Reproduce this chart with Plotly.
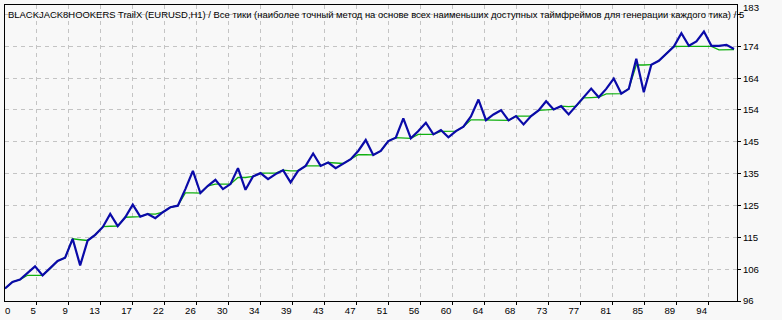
import plotly.graph_objects as go

# ---- data ----
trades = list(range(98))
balance = [99.78, 101.80, 102.49, 104.61, 106.51, 103.79, 105.82, 108.14, 109.14, 114.88,
           106.81, 114.37, 116.09, 118.41, 122.43, 118.72, 121.43, 125.24, 121.62, 122.43,
           121.13, 122.95, 124.46, 124.94, 129.98, 135.51, 128.78, 130.98, 132.79, 129.98,
           131.49, 136.33, 129.77, 133.82, 134.82, 133.00, 134.52, 135.72, 132.01, 135.51,
           137.02, 140.77, 137.02, 138.05, 136.33, 137.75, 139.05, 141.55, 144.88, 140.35,
           141.55, 144.57, 145.60, 151.43, 145.39, 147.60, 150.13, 146.60, 147.90, 145.69,
           147.60, 148.92, 152.04, 157.17, 150.92, 152.64, 153.94, 150.83, 152.13, 149.62,
           152.13, 153.85, 156.66, 154.15, 155.15, 152.64, 155.15, 157.68, 160.49, 157.87,
           160.40, 163.52, 158.98, 160.40, 169.56, 159.38, 167.74, 168.95, 171.07, 173.27,
           177.32, 173.48, 174.78, 177.80, 173.48, 173.48, 173.79, 172.49]
equity = [99.78, 101.80, 102.49, 103.80, 103.80, 103.79, 105.82, 108.14, 109.14, 114.88,
          114.60, 114.37, 116.09, 118.60, 118.70, 118.72, 121.43, 121.50, 121.62, 122.43,
          122.40, 122.95, 124.46, 124.94, 128.80, 128.80, 128.78, 130.98, 131.50, 131.50,
          131.49, 133.50, 133.50, 133.82, 134.82, 134.82, 134.82, 135.72, 135.50, 135.51,
          137.02, 137.00, 137.02, 138.05, 137.90, 137.75, 139.05, 140.40, 140.40, 140.35,
          141.55, 144.57, 145.60, 145.40, 145.39, 146.60, 146.60, 146.60, 147.50, 147.50,
          147.60, 148.92, 151.00, 151.00, 150.92, 150.80, 150.80, 150.83, 152.13, 152.13,
          152.13, 153.90, 154.10, 154.15, 155.15, 155.00, 155.15, 157.68, 157.75, 157.87,
          158.90, 158.90, 158.98, 160.40, 167.65, 167.65, 167.74, 168.95, 171.07, 173.27,
          173.30, 173.30, 173.30, 173.30, 173.30, 172.25, 172.25, 172.30]
x_tick_labels = ["5", "9", "13", "17", "22", "26", "30", "34", "39", "43", "47",
                 "51", "56", "60", "64", "68", "73", "77", "81", "85", "89", "94"]
y_tick_labels = ["96", "106", "115", "125", "135", "145", "154", "164", "174", "183"]
title_text = ("BLACKJACK8HOOKERS TrailX (EURUSD,H1) / Все тики (наиболее точный метод на основе "
              "всех наименьших доступных таймфреймов для генерации каждого тика) / 5")

# ---- scales ----
X_MAX = 97.4
X_STEP = 32 * X_MAX / 733.0
Y_MIN = 96.0
Y_STEP = 9.667
Y_MAX = Y_MIN + Y_STEP * 297.5 / 32.0

FONT = "Liberation Sans"
BG = "#f8f8f8"
TICK_SIZE = 9.6

fig = go.Figure()
fig.add_trace(go.Scatter(x=trades, y=equity, mode="lines",
                         line=dict(color="#10b010", width=1.3), hoverinfo="skip"))
fig.add_trace(go.Scatter(x=trades, y=balance, mode="lines",
                         line=dict(color="#0a0aa8", width=2.2), hoverinfo="skip"))

# top label is drawn by MT4 slightly above its grid line
y_ticktext = y_tick_labels[:-1] + [""]

fig.update_layout(
    width=782, height=320,
    margin=dict(l=4, r=45, t=5, b=17),
    paper_bgcolor=BG, plot_bgcolor=BG,
    showlegend=False,
    font=dict(family=FONT, size=TICK_SIZE, color="black"),
)
fig.update_xaxes(
    range=[0, X_MAX],
    tickvals=[X_STEP * (k + 1) for k in range(len(x_tick_labels))],
    ticktext=x_tick_labels,
    ticks="outside", ticklen=3, tickcolor="black",
    ticklabelposition="outside left",
    showline=True, linecolor="black", linewidth=1, mirror=True,
    showgrid=True, gridcolor="#c4c4c4", gridwidth=1, griddash="4px,4px",
    zeroline=False, fixedrange=True,
    tickfont=dict(family=FONT, size=TICK_SIZE),
)
fig.update_yaxes(
    range=[Y_MIN, Y_MAX], side="right",
    tickvals=[Y_MIN + Y_STEP * k for k in range(len(y_tick_labels))],
    ticktext=y_ticktext,
    ticks="outside", ticklen=3, tickcolor="black",
    showline=True, linecolor="black", linewidth=1, mirror=True,
    showgrid=True, gridcolor="#c4c4c4", gridwidth=1, griddash="4px,4px",
    zeroline=False, fixedrange=True,
    tickfont=dict(family=FONT, size=TICK_SIZE),
)
fig.add_annotation(x=1, y=Y_MIN + Y_STEP * (len(y_tick_labels) - 1), xref="paper", yref="y",
                   text=y_tick_labels[-1], showarrow=False,
                   xanchor="left", yanchor="middle", xshift=4, yshift=7,
                   font=dict(family=FONT, size=TICK_SIZE))
fig.add_annotation(x=0, y=0, xref="x", yref="paper", text="0", showarrow=False,
                   xanchor="left", yanchor="top", xshift=-2, yshift=-2,
                   font=dict(family=FONT, size=TICK_SIZE))
fig.add_annotation(x=0, y=1, xref="paper", yref="paper", text=title_text, showarrow=False,
                   xanchor="left", yanchor="top", xshift=1, yshift=-2,
                   font=dict(family=FONT, size=9.45))

fig.write_html("out.html")
